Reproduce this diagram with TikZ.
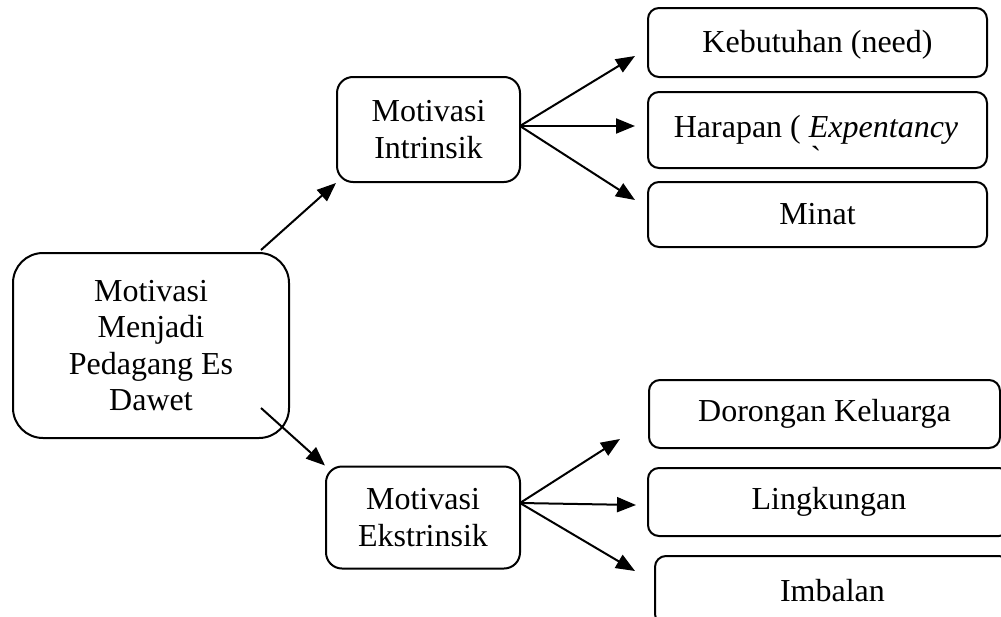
\documentclass[tikz,border=0pt]{standalone}
\usepackage{fontspec}
\setmainfont{Liberation Serif}
\usetikzlibrary{arrows.meta}
\begin{document}
\begin{tikzpicture}[x=1pt,y=-1pt,
  box/.style={draw,line width=2pt,align=center,inner sep=0pt,
    font=\fontsize{32}{36.5}\selectfont},
  arr/.style={line width=2pt,-{Triangle[length=19pt,width=15pt]}}]
\useasboundingbox (0,0) rectangle (1001,616);
\clip (0,0) rectangle (1001,616);
% nodes
\node[box,rounded corners=30pt,minimum width=276pt,minimum height=185pt] (main) at (151,345.5)
  {Motivasi\\Menjadi\\Pedagang Es\\Dawet};
\node[box,rounded corners=16pt,minimum width=183pt,minimum height=105pt] (intr) at (428.5,129.5)
  {Motivasi\\Intrinsik};
\node[box,rounded corners=16pt,minimum width=194pt,minimum height=102pt] (ekst) at (423,517.5)
  {Motivasi\\Ekstrinsik};
\node[box,rounded corners=11pt,minimum width=339pt,minimum height=69pt,text height=26pt,text depth=7pt] (keb) at (817.5,42.5)
  {Kebutuhan (need)};
\node[box,rounded corners=11pt,minimum width=339pt,minimum height=76pt] (har) at (817.5,130) {};
\node[align=center,font=\fontsize{32}{31}\selectfont] (hartext) at (816,142)
  {Harapan ( \textit{Expentancy}\\[0pt]\textasciigrave};
\node[box,rounded corners=11pt,minimum width=339pt,minimum height=65pt] (min) at (817.5,214.5)
  {Minat};
\node[box,rounded corners=11pt,minimum width=351pt,minimum height=68pt] (dor) at (824.5,414)
  {Dorongan Keluarga};
\node[box,rounded corners=11pt,minimum width=362pt,minimum height=68pt] (lin) at (829,502)
  {Lingkungan};
\node[box,rounded corners=11pt,minimum width=355pt,minimum height=69pt] (imb) at (832.5,590.5)
  {Imbalan};
% connector end points
\coordinate (m1) at (261,250);
\coordinate (m2) at (261,408);
\coordinate (i0) at (520,126);
\coordinate (e0) at (520,503);
\coordinate (i1) at (635,56);
\coordinate (i2) at (635,126);
\coordinate (i3) at (635,200);
\coordinate (e1) at (620,439);
\coordinate (e2) at (636,505);
\coordinate (e3) at (635,571);
% connectors
\draw[arr] (m1) -- (intr.south west);
\draw[arr] (m2) -- (ekst.north west);
\draw[arr] (i0) -- (i1);
\draw[arr] (i0) -- (i2);
\draw[arr] (i0) -- (i3);
\draw[arr] (e0) -- (e1);
\draw[arr] (e0) -- (e2);
\draw[arr] (e0) -- (e3);
\end{tikzpicture}
\end{document}
